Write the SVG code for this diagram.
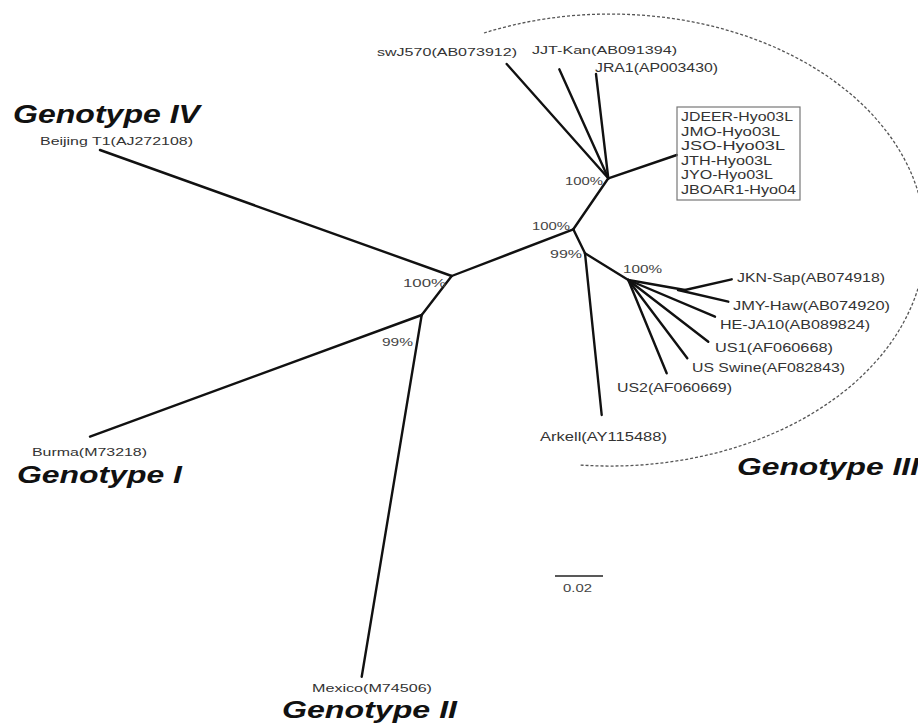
<svg xmlns="http://www.w3.org/2000/svg" width="918" height="727" viewBox="0 0 918 727">
<style>
.br{stroke:#111;stroke-width:2.4;fill:none;stroke-linecap:round;stroke-linejoin:round}
.lb{font-family:"Liberation Sans",Arial,sans-serif;fill:#333;font-size:12px}
.sm{font-size:10.5px}
.pc{font-family:"Liberation Sans",Arial,sans-serif;fill:#444;font-size:11px}
.gt{font-family:"Liberation Sans",Arial,sans-serif;font-weight:bold;font-style:italic;fill:#111;font-size:24px}
.hull{fill:none;stroke:#555;stroke-width:1.3;stroke-dasharray:3 2}
.box{fill:none;stroke:#777;stroke-width:1.2}
</style>
<rect width="918" height="727" fill="#fff"/>
<path id="genotype3-hull" class="hull" d="M 484 33 A 315 226 0 1 1 580 465"/>
<g id="connectors">
<path class="br" d="M451.7 276 L100 150"/>
<path class="br" d="M451.7 276 L421.7 315"/>
<path class="br" d="M421.7 315 L90 436.7"/>
<path class="br" d="M421.7 315 L361.7 676.7"/>
<path class="br" d="M451.7 276 L573.3 229.3"/>
<path class="br" d="M573.3 229.3 L608.3 178.3"/>
<path class="br" d="M608.3 178.3 L506.7 64"/>
<path class="br" d="M608.3 178.3 L559.3 69.3"/>
<path class="br" d="M608.3 178.3 L596 74"/>
<path class="br" d="M608.3 178.3 L676.7 155"/>
<path class="br" d="M573.3 229.3 L585 253.3"/>
<path class="br" d="M585 253.3 L601.7 415"/>
<path class="br" d="M585 253.3 L628.3 280"/>
<path class="br" d="M628.3 280 L685 290"/>
<path class="br" d="M685 290 L731.7 279.3"/>
<path class="br" d="M678 290 L728.3 301.7"/>
<path class="br" d="M628.3 280 L715 316.7"/>
<path class="br" d="M628.3 280 L708.3 341.7"/>
<path class="br" d="M628.3 280 L687.3 358.3"/>
<path class="br" d="M628.3 280 L666.7 373.3"/>
</g>
<g id="node-A"><text class="pc" x="403" y="287" textLength="43" lengthAdjust="spacingAndGlyphs">100%</text></g>
<g id="node-B"><text class="pc" x="382" y="346" textLength="31" lengthAdjust="spacingAndGlyphs">99%</text></g>
<g id="node-C"><text class="pc" x="532" y="230" textLength="38" lengthAdjust="spacingAndGlyphs">100%</text></g>
<g id="node-D"><text class="pc" x="565" y="185" textLength="38" lengthAdjust="spacingAndGlyphs">100%</text></g>
<g id="node-E"><text class="pc" x="550" y="258" textLength="32" lengthAdjust="spacingAndGlyphs">99%</text></g>
<g id="node-F"><text class="pc" x="623" y="273" textLength="39" lengthAdjust="spacingAndGlyphs">100%</text></g>
<g id="leaf-beijing"><text class="lb sm" x="40" y="145" textLength="153" lengthAdjust="spacingAndGlyphs">Beijing T1(AJ272108)</text></g>
<g id="leaf-burma"><text class="lb sm" x="32" y="456" textLength="115" lengthAdjust="spacingAndGlyphs">Burma(M73218)</text></g>
<g id="leaf-mexico"><text class="lb sm" x="312" y="692" textLength="120" lengthAdjust="spacingAndGlyphs">Mexico(M74506)</text></g>
<g id="leaf-swJ570"><text class="lb" x="377" y="56" textLength="140" lengthAdjust="spacingAndGlyphs" style="font-size:11px">swJ570(AB073912)</text></g>
<g id="leaf-JJT"><text class="lb" x="532" y="54" textLength="145" lengthAdjust="spacingAndGlyphs" style="font-size:11px">JJT-Kan(AB091394)</text></g>
<g id="leaf-JRA1"><text class="lb" x="595" y="72" textLength="123" lengthAdjust="spacingAndGlyphs">JRA1(AP003430)</text></g>
<g id="leaf-box">
<rect class="box" x="677" y="107" width="123" height="93"/>
<text class="lb" x="681" y="121" textLength="112" lengthAdjust="spacingAndGlyphs" style="font-size:13px">JDEER-Hyo03L</text>
<text class="lb" x="681" y="135.5" textLength="99" lengthAdjust="spacingAndGlyphs" style="font-size:13px">JMO-Hyo03L</text>
<text class="lb" x="681" y="150" textLength="104" lengthAdjust="spacingAndGlyphs" style="font-size:13px">JSO-Hyo03L</text>
<text class="lb" x="681" y="164.5" textLength="91" lengthAdjust="spacingAndGlyphs" style="font-size:13px">JTH-Hyo03L</text>
<text class="lb" x="681" y="179" textLength="92" lengthAdjust="spacingAndGlyphs" style="font-size:13px">JYO-Hyo03L</text>
<text class="lb" x="681" y="193.5" textLength="115" lengthAdjust="spacingAndGlyphs" style="font-size:13px">JBOAR1-Hyo04</text>
</g>
<g id="leaf-JKN"><text class="lb" x="737" y="282" textLength="148" lengthAdjust="spacingAndGlyphs">JKN-Sap(AB074918)</text></g>
<g id="leaf-JMY"><text class="lb" x="733" y="310" textLength="157" lengthAdjust="spacingAndGlyphs">JMY-Haw(AB074920)</text></g>
<g id="leaf-HEJA10"><text class="lb" x="720" y="329" textLength="150" lengthAdjust="spacingAndGlyphs">HE-JA10(AB089824)</text></g>
<g id="leaf-US1"><text class="lb" x="715" y="352" textLength="118" lengthAdjust="spacingAndGlyphs">US1(AF060668)</text></g>
<g id="leaf-USSwine"><text class="lb" x="692" y="372" textLength="153" lengthAdjust="spacingAndGlyphs">US Swine(AF082843)</text></g>
<g id="leaf-US2"><text class="lb" x="617" y="392" textLength="115" lengthAdjust="spacingAndGlyphs">US2(AF060669)</text></g>
<g id="leaf-Arkell"><text class="lb" x="540" y="441" textLength="127" lengthAdjust="spacingAndGlyphs">Arkell(AY115488)</text></g>
<g id="genotype-labels">
<text class="gt" x="13" y="123" textLength="187" lengthAdjust="spacingAndGlyphs" style="font-size:26px">Genotype IV</text>
<text class="gt" x="17" y="483" textLength="165" lengthAdjust="spacingAndGlyphs">Genotype I</text>
<text class="gt" x="282" y="718" textLength="175" lengthAdjust="spacingAndGlyphs">Genotype II</text>
<text class="gt" x="737" y="475" textLength="182" lengthAdjust="spacingAndGlyphs">Genotype III</text>
</g>
<g id="scale-bar">
<line x1="555" y1="576" x2="603" y2="576" stroke="#222" stroke-width="1.6"/>
<text class="pc" x="563" y="592" textLength="29" lengthAdjust="spacingAndGlyphs">0.02</text>
</g>
</svg>
